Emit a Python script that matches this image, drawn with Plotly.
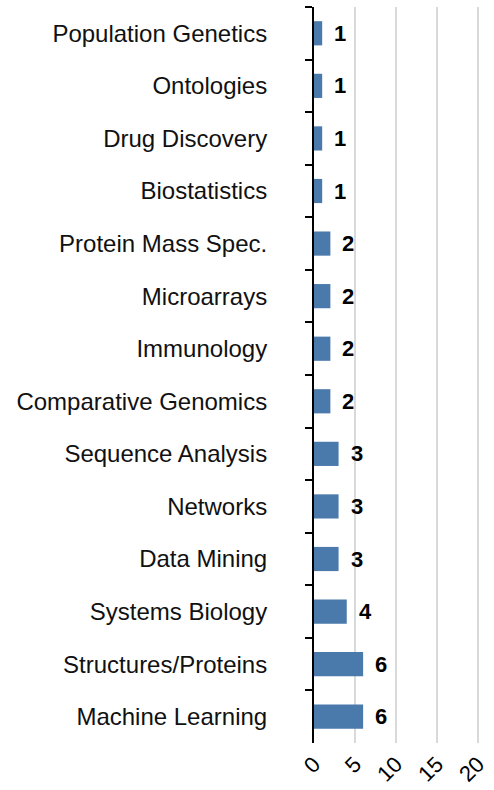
import plotly.graph_objects as go

# Topics listed top to bottom with their counts
topics = [
    "Population Genetics", "Ontologies", "Drug Discovery", "Biostatistics",
    "Protein Mass Spec.", "Microarrays", "Immunology", "Comparative Genomics",
    "Sequence Analysis", "Networks", "Data Mining", "Systems Biology",
    "Structures/Proteins", "Machine Learning",
]
counts = [1, 1, 1, 1, 2, 2, 2, 2, 3, 3, 3, 4, 6, 6]
x_ticks = [0, 5, 10, 15, 20]

FONT = "Liberation Sans, Helvetica, Arial, sans-serif"
BAR_COLOR = "#4a79ab"

fig = go.Figure(
    go.Bar(
        x=counts,
        y=topics,
        orientation="h",
        marker=dict(color=BAR_COLOR, line=dict(width=0)),
        width=0.46,
        hoverinfo="x+y",
    )
)

# Value labels to the right of each bar
for t, c in zip(topics, counts):
    fig.add_annotation(
        x=c, y=t, text=f"<b>{c}</b>", showarrow=False,
        xanchor="left", xshift=10,
        font=dict(family=FONT, size=22, color="#000000"),
    )

fig.update_layout(
    width=494,
    height=790,
    margin=dict(l=314, r=8, t=7, b=47, autoexpand=False),
    plot_bgcolor="white",
    paper_bgcolor="white",
    showlegend=False,
    font=dict(family=FONT, size=24, color="#000000"),
)

fig.update_xaxes(
    range=[0, 21],
    tickvals=x_ticks,
    ticktext=[str(v) for v in x_ticks],
    tickangle=-45,
    showgrid=True,
    gridcolor="#d9d9d9",
    gridwidth=2,
    zeroline=False,
    showline=False,
    ticks="",
    automargin=False,
    ticklabelstandoff=3,
    tickfont=dict(family=FONT, size=22, color="#000000"),
)

fig.update_yaxes(
    autorange="reversed",
    automargin=False,
    showline=True,
    linecolor="#000000",
    linewidth=2,
    ticks="outside",
    tickson="boundaries",
    ticklen=7,
    tickwidth=2,
    tickcolor="#000000",
    showgrid=False,
    ticklabelstandoff=40,
    tickfont=dict(family=FONT, size=24, color="#111111"),
)

fig.write_html("out.html")
